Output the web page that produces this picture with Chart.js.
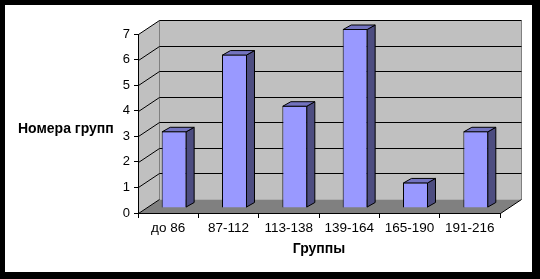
<!DOCTYPE html>
<html><head><meta charset="utf-8">
<script src="https://cdn.jsdelivr.net/npm/chart.js@4"></script>
<style>
html,body{margin:0;padding:0;background:#000;width:540px;height:279px;overflow:hidden}
#wrap{position:absolute;left:5px;top:5px;width:527px;height:267px;background:#fff}
canvas{display:block}
</style></head><body>
<div id="wrap"><canvas id="c" width="527" height="267"></canvas></div>
<script>
const categories = ['до 86', '87-112', '113-138', '139-164', '165-190', '191-216'];
const groupCounts = [3, 6, 4, 7, 1, 3];
const yTicks = [0, 1, 2, 3, 4, 5, 6, 7];
const xTitle = 'Группы';
const yTitle = 'Номера групп';

const FONT = "'Liberation Sans', Arial, sans-serif";
const WALL_DX = 21, WALL_DY = -14;     // depth of the 3D box
const BAR_SHIFT_X = 6, BAR_SHIFT_Y = -5; // bars stand inside the box
const BAR_DX = 8, BAR_DY = -4.5;        // depth of each bar

function poly(ctx, pts, fill, stroke) {
  ctx.beginPath();
  pts.forEach((p, i) => i ? ctx.lineTo(p[0], p[1]) : ctx.moveTo(p[0], p[1]));
  ctx.closePath();
  if (fill) { ctx.fillStyle = fill; ctx.fill(); }
  if (stroke) { ctx.strokeStyle = stroke; ctx.lineWidth = 1; ctx.stroke(); }
}
function line(ctx, x1, y1, x2, y2, color) {
  ctx.beginPath(); ctx.moveTo(x1, y1); ctx.lineTo(x2, y2);
  ctx.strokeStyle = color; ctx.lineWidth = 1; ctx.stroke();
}

const box3d = {
  id: 'box3d',
  beforeDraw(chart) {
    const {ctx, chartArea: a, scales: {y}} = chart;
    const L = a.left + 0.5, R = a.right + 0.5;
    const y0 = Math.round(y.getPixelForValue(yTicks[0])) + 0.5;
    const yT = Math.round(y.getPixelForValue(yTicks[yTicks.length - 1])) + 0.5;
    ctx.save();
    poly(ctx, [[L, yT], [L + WALL_DX, yT + WALL_DY], [L + WALL_DX, y0 + WALL_DY], [L, y0]], '#C0C0C0');
    poly(ctx, [[L + WALL_DX, yT + WALL_DY], [R + WALL_DX, yT + WALL_DY], [R + WALL_DX, y0 + WALL_DY], [L + WALL_DX, y0 + WALL_DY]], '#C0C0C0');
    poly(ctx, [[L, y0], [R, y0], [R + WALL_DX, y0 + WALL_DY], [L + WALL_DX, y0 + WALL_DY]], '#808080');
    line(ctx, L + WALL_DX, yT + WALL_DY, L + WALL_DX, y0 + WALL_DY, '#808080');
    line(ctx, R + WALL_DX, yT + WALL_DY, R + WALL_DX, y0 + WALL_DY, '#808080');
    yTicks.forEach(v => {
      const py = Math.round(y.getPixelForValue(v)) + 0.5;
      line(ctx, L, py, L + WALL_DX, py + WALL_DY, '#000');
      if (v !== yTicks[0]) line(ctx, L + WALL_DX, py + WALL_DY, R + WALL_DX, py + WALL_DY, '#000');
    });
    line(ctx, R, y0, R + WALL_DX, y0 + WALL_DY, '#000');
    ctx.restore();
  },
  beforeDatasetsDraw(chart) {
    chart.ctx.save();
    chart.ctx.translate(BAR_SHIFT_X, BAR_SHIFT_Y);
  },
  afterDatasetsDraw(chart) {
    const ctx = chart.ctx;
    chart.getDatasetMeta(0).data.forEach(el => {
      const {x, y, base, width} = el.getProps(['x', 'y', 'base', 'width'], true);
      const l = x - width / 2, r = x + width / 2;
      poly(ctx, [[r - 0.5, y + 0.5], [r - 0.5 + BAR_DX, y + 0.5 + BAR_DY], [r - 0.5 + BAR_DX, base - 0.5 + BAR_DY], [r - 0.5, base - 0.5]], '#4D4D80', '#000');
      poly(ctx, [[l + 0.5, y + 0.5], [l + 0.5 + BAR_DX, y + 0.5 + BAR_DY], [r - 0.5 + BAR_DX, y + 0.5 + BAR_DY], [r - 0.5, y + 0.5]], '#7373BF', '#000');
    });
    ctx.restore();
  },
  afterDraw(chart) {
    const ctx = chart.ctx;
    ctx.save();
    ctx.font = "bold 14px " + FONT;
    ctx.fillStyle = '#000';
    ctx.textAlign = 'left';
    ctx.textBaseline = 'middle';
    ctx.fillText(yTitle, 13, 124);
    ctx.restore();
  }
};

Chart.defaults.font.family = FONT;
Chart.defaults.color = '#000';

new Chart(document.getElementById('c'), {
  type: 'bar',
  data: {
    labels: categories,
    datasets: [{
      data: groupCounts,
      backgroundColor: '#9999FF',
      borderColor: '#000',
      borderWidth: 1,
      barPercentage: 0.414,
      categoryPercentage: 1,
      clip: false
    }]
  },
  options: {
    responsive: false,
    animation: false,
    devicePixelRatio: 1,
    layout: {padding: {left: 0, top: 29, right: 32, bottom: 0}},
    plugins: {legend: {display: false}, tooltip: {enabled: false}},
    scales: {
      x: {
        grid: {offset: true, drawOnChartArea: false, tickLength: 5, color: '#000'},
        border: {display: true, color: '#000'},
        ticks: {font: {size: 13.5}, padding: 2, maxRotation: 0, autoSkip: false},
        title: {display: true, text: xTitle, font: {size: 14, weight: 'bold'}, padding: {top: 0, bottom: 14.6}},
        afterFit(s) { s.height = 59; }
      },
      y: {
        min: yTicks[0], max: yTicks[yTicks.length - 1],
        afterBuildTicks(s) { s.ticks = yTicks.map(v => ({value: v})); },
        grid: {drawOnChartArea: false, tickLength: 4, color: '#000'},
        border: {display: true, color: '#000'},
        ticks: {font: {size: 13}, padding: 4},
        afterFit(s) { s.width = 133; }
      }
    }
  },
  plugins: [box3d]
});
</script>
</body></html>
